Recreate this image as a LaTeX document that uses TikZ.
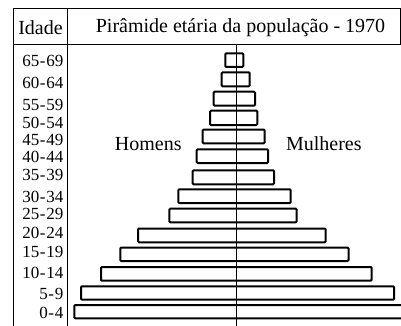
\documentclass[tikz,border=0pt]{standalone}
\usepackage{fontspec}
\setmainfont{Liberation Serif}
\newfontfamily\agefont{Liberation Serif}[WordSpace=0.15]
\usepackage{tikz}
\usetikzlibrary{positioning,calc}

\tikzset{
    frame/.style={line width=0.9pt},
    bar/.style={draw, line width=2pt, rounded corners=1pt},
    agelbl/.style={anchor=east, inner sep=0pt, font=\agefont\fontsize{17}{17}\selectfont},
    title/.style={inner sep=0pt, font=\fontsize{20}{20}\selectfont},
}

\begin{document}
\begin{tikzpicture}[x=1pt,y=-1pt]
    \clip (0,0) rectangle (401,326);
    % frame of the table
    \coordinate (tl) at (13,8);
    \coordinate (tr) at (400.5,8);
    \coordinate (hl) at (13,44);
    \coordinate (hr) at (400.5,44);
    \draw[frame] (13,326) -- (tl) -- (tr) -- (hr);
    \draw[frame] (hl) -- (hr);
    \draw[frame] (67,8) -- (67,326);
    \node[title] (idade) at (40.5,28) {Idade};
    \node[title] (titulo) at (240.5,28) {Pirâmide etária da população - 1970};
    % bars: label / label y / top / bottom / left / right
    \foreach \lbl/\ly/\t/\b/\l/\r [count=\i] in {
        65 - 69/60.7/53.3/67/225.3/243.3,
        60 - 64/82.7/72.3/86.3/221.7/249.7,
        55 - 59/105/91.7/105.7/213.7/255,
        50 - 54/122.7/110.7/125/210/257.3,
        45 - 49/140/129.5/143.3/202.7/264.7,
        40 - 44/156.7/149.3/163/196.7/268,
        35 - 39/175/170.3/184.3/192.7/274,
        30 - 34/196.7/189.3/203/178.3/290.7,
        25 - 29/214.3/208.7/222.3/169.3/296.7,
        20 - 24/233.3/228.5/242.3/138/325.7,
        15 - 19/251.7/247.5/261/120.3/348.5,
        10 - 14/273.3/267/280.7/101/371.7,
        5 - 9/294/286.3/299.7/81/394,
        0 - 4/313.3/305/318.3/74.3/412}
    {
        \node[agelbl] (age\i) at (63.5,\ly) {\lbl};
        \draw[bar] (\l,\t) rectangle (\r,\b);
    }
    % axis
    \draw[line width=0.9pt] (236,44) -- (236,326);
    \node[title] (homens) at (148.3,144) {Homens};
    \node[title] (mulheres) at (323.8,144) {Mulheres};
\end{tikzpicture}
\end{document}
